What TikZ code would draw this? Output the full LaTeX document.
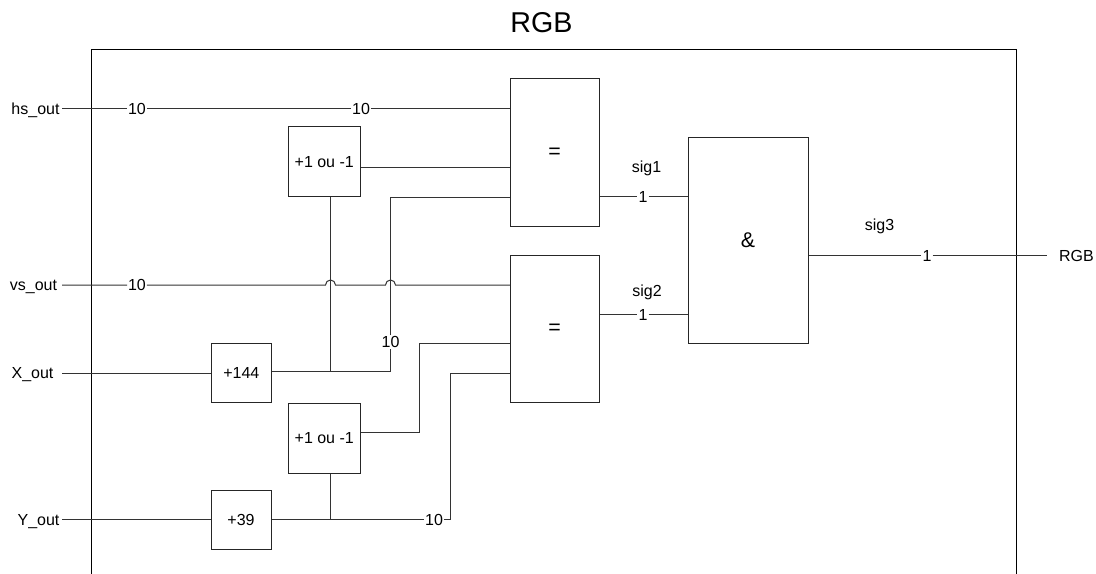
\documentclass[tikz,border=0pt]{standalone}
\usepackage{fontspec}
\setmainfont{Liberation Sans}
\tikzset{
  wire/.style={draw=black!80,line width=0.75pt,line join=miter},
  frame/.style={draw=black,line width=0.75pt},
  blockbox/.style={draw=black!85,line width=0.75pt,fill=white,inner sep=0pt,font=\fontsize{12pt}{14pt}\selectfont},
  bigsign/.style={font=\fontsize{16pt}{18pt}\selectfont},
  onwire/.style={fill=white,inner sep=0.6pt,font=\fontsize{12pt}{14pt}\selectfont},
  port/.style={inner sep=0pt,anchor=base,font=\fontsize{12pt}{14pt}\selectfont},
  lbl/.style={inner sep=0pt,font=\fontsize{12pt}{14pt}\selectfont},
}
\begin{document}
\begin{tikzpicture}[x=0.75pt,y=-0.75pt]
\useasboundingbox (0,0) rectangle (1096,574);
% frame
\coordinate (fbl) at (91.5,574);
\coordinate (fbr) at (1016,574);
\draw[frame] (fbl) -- (91.5,50) -- (1016,50) -- (fbr);
\node[font=\fontsize{21.5pt}{24pt}\selectfont,inner sep=0pt] (title) at (541.5,22.7) {RGB};
% blocks
\node[blockbox,minimum width=71.5*0.75pt,minimum height=70.5*0.75pt] (pm1) at (324.25,161.75) {+1 ou -1};
\node[blockbox,minimum width=71.5*0.75pt,minimum height=70*0.75pt] (pm2) at (324.25,438) {+1 ou -1};
\node[blockbox,minimum width=60*0.75pt,minimum height=59*0.75pt] (p144) at (241.3,372.8) {+144};
\node[blockbox,minimum width=60*0.75pt,minimum height=59*0.75pt] (p39) at (241,519.5) {+39};
\node[blockbox,bigsign,minimum width=89*0.75pt,minimum height=148*0.75pt] (eq1) at (554.5,153) {=};
\node[blockbox,bigsign,minimum width=89*0.75pt,minimum height=147*0.75pt] (eq2) at (554.5,328.8) {=};
\node[blockbox,bigsign,minimum width=120*0.75pt,minimum height=206*0.75pt] (and) at (748,240.5) {\&};
% ports
\node[port] (hs) at (35.5,114.3) {hs\_out};
\node[port] (vs) at (33.5,290.7) {vs\_out};
\node[port] (xo) at (32.5,378.3) {X\_out};
\node[port] (yo) at (38.5,525) {Y\_out};
\node[inner sep=0pt,font=\fontsize{12pt}{14pt}\selectfont] (rgbout) at (1076.5,256) {RGB};
% labels on wires
\node[onwire] (h1) at (137,108.5) {10};
\node[onwire] (h2) at (361,108.5) {10};
\node[onwire] (v1) at (137,285) {10};
\node[onwire] (x1) at (390.5,342) {10};
\node[onwire] (y1) at (434,519.5) {10};
\node[onwire] (s1) at (643,197) {1};
\node[onwire] (s2) at (643,314.5) {1};
\node[onwire] (s3) at (927,255.5) {1};
% signal names
\node[lbl] (n1) at (646.5,168) {sig1};
\node[lbl] (n2) at (647,292.5) {sig2};
\node[lbl] (n3) at (879.5,226) {sig3};
% junctions and waypoints
\coordinate (hs0) at (62,108.5);
\coordinate (vs0) at (62,285);
\coordinate (xo0) at (62,373);
\coordinate (yo0) at (62,519.5);
\coordinate (rgb0) at (1047,255.5);
\coordinate (jx) at (330.5,371.5);
\coordinate (jy) at (330.5,519.5);
\coordinate (cx1) at (390.5,371.5);
\coordinate (cx2) at (390.5,197.5);
\coordinate (b1) at (325.5,285);
\coordinate (b3) at (385.5,285);
\coordinate (in11) at (510,108.5);
\coordinate (in12) at (510,167.5);
\coordinate (in13) at (510,197.5);
\coordinate (in21) at (510,285);
\coordinate (in22) at (510,343.5);
\coordinate (in23) at (510,373.5);
\coordinate (c21) at (419.5,432.5);
\coordinate (c22) at (419.5,343.5);
\coordinate (c31) at (450.5,519.5);
\coordinate (c32) at (450.5,373.5);
% hs
\draw[wire] (hs0) -- (h1) -- (h2) -- (in11);
% pm1 output
\draw[wire] (pm1.east |- in12) -- (in12);
% vs with bumps
\draw[wire] (vs0) -- (v1) -- (b1) arc[start angle=180,end angle=360,radius=5] -- (b3) arc[start angle=180,end angle=360,radius=5] -- (in21);
% X
\draw[wire] (xo0) -- (p144.west |- xo0);
\draw[wire] (p144.east |- jx) -- (jx) -- (cx1) -- (x1);
\draw[wire] (x1) -- (cx2) -- (in13);
\draw[wire] (jx) -- (jx |- pm1.south);
% Y
\draw[wire] (yo0) -- (p39.west);
\draw[wire] (p39.east) -- (jy) -- (y1);
\draw[wire] (y1) -- (c31) -- (c32) -- (in23);
\draw[wire] (jy) -- (jy |- pm2.south);
% pm2 output
\draw[wire] (pm2.east |- c21) -- (c21) -- (c22) -- (in22);
% to and
\draw[wire] (eq1.east |- s1) -- (s1) -- (and.west |- s1);
\draw[wire] (eq2.east |- s2) -- (s2) -- (and.west |- s2);
\draw[wire] (and.east |- s3) -- (s3) -- (rgb0);
\end{tikzpicture}
\end{document}
